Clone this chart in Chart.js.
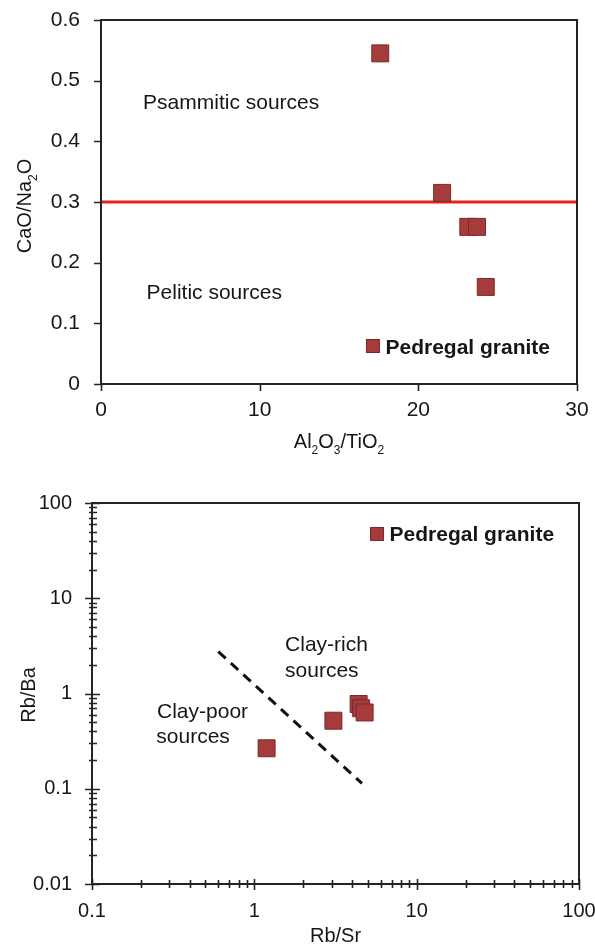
<!DOCTYPE html>
<html>
<head>
<meta charset="utf-8">
<script src="https://cdn.jsdelivr.net/npm/chart.js@4.4.1/dist/chart.umd.min.js"></script>
<style>
html,body{margin:0;padding:0;background:#fff;}
#c1{position:absolute;left:0;top:0;}
#c2{position:absolute;left:0;top:470px;}
</style>
</head>
<body>
<canvas id="c1" width="595" height="460"></canvas>
<canvas id="c2" width="595" height="481"></canvas>
<script>
// ---------- DATA: upper diagram (Al2O3/TiO2 vs CaO/Na2O) ----------
const seriesName = 'Pedregal granite';
const topAl2O3TiO2 = [17.6, 21.5, 23.15, 23.7, 24.25];
const topCaONa2O   = [0.545, 0.315, 0.259, 0.259, 0.160];
const topXTicks = [0, 10, 20, 30];
const topYTicks = [0, 0.1, 0.2, 0.3, 0.4, 0.5, 0.6];
const boundaryX = [0, 30];
const boundaryY = [0.3, 0.3];
const topRegionLabels = ['Psammitic sources', 'Pelitic sources'];

// ---------- DATA: lower diagram (Rb/Sr vs Rb/Ba, log-log) ----------
const botRbSr = [1.19, 3.07, 4.39, 4.55, 4.78];
const botRbBa = [0.266, 0.518, 0.776, 0.70, 0.632];
const dividerX = [0.6, 4.6];
const dividerY = [2.75, 0.114];
const botXTicks = [0.1,0.2,0.3,0.4,0.5,0.6,0.7,0.8,0.9,1,2,3,4,5,6,7,8,9,10,20,30,40,50,60,70,80,90,100];
const botXLabels = [0.1, 1, 10, 100];
const botYTicks = [0.01,0.02,0.03,0.04,0.05,0.06,0.07,0.08,0.09,0.1,0.2,0.3,0.4,0.5,0.6,0.7,0.8,0.9,1,2,3,4,5,6,7,8,9,10,20,30,40,50,60,70,80,90,100];
const botYLabels = [0.01, 0.1, 1, 10, 100];
const botRegionLabels = ['Clay-rich', 'sources', 'Clay-poor', 'sources'];

// axis titles as [text, isSubscript] runs
const topXTitle = [['Al',0],['2',1],['O',0],['3',1],['/TiO',0],['2',1]];
const topYTitle = [['CaO/Na',0],['2',1],['O',0]];
const botXTitle = [['Rb/Sr',0]];
const botYTitle = [['Rb/Ba',0]];

// ---------- styling ----------
const FONT = "'Liberation Sans', Arial, Helvetica, sans-serif";
const INK = '#161616';
const MARK_FILL = '#a63b3b';
const MARK_EDGE = '#7a2a2a';
Chart.defaults.font.family = FONT;
Chart.defaults.color = INK;

function capText(ctx, str, x, yc, size, weight) {
  ctx.font = (weight || 'normal') + ' ' + size + 'px ' + FONT;
  ctx.textAlign = 'left';
  ctx.textBaseline = 'alphabetic';
  ctx.fillText(str, x, yc + 0.358 * size);
}
function drawRich(ctx, parts, cx, baseY, size) {
  const sub = Math.round(size * 0.62);
  let w = 0;
  parts.forEach(p => { ctx.font = (p[1] ? sub : size) + 'px ' + FONT; w += ctx.measureText(p[0]).width; });
  let x = cx - w / 2;
  ctx.textAlign = 'left'; ctx.textBaseline = 'alphabetic';
  parts.forEach(p => {
    ctx.font = (p[1] ? sub : size) + 'px ' + FONT;
    ctx.fillText(p[0], x, baseY + (p[1] ? size * 0.3 : 0));
    x += ctx.measureText(p[0]).width;
  });
}

function fixBox(dim, val) {
  return s => {
    s[dim] = val;
    s.paddingLeft = 0; s.paddingRight = 0; s.paddingTop = 0; s.paddingBottom = 0;
  };
}

function makeDecor(cfg) {
  return {
    id: 'decor',
    afterDatasetsDraw(chart) {
      const {ctx, scales} = chart;
      const sx = scales.x, sy = scales.y;
      ctx.save();
      ctx.fillStyle = INK;
      cfg.notes.forEach(n => capText(ctx, n.text, sx.getPixelForValue(n.x), sy.getPixelForValue(n.y), 21));
      const lx = sx.getPixelForValue(cfg.legend.x), ly = sy.getPixelForValue(cfg.legend.y);
      ctx.fillStyle = MARK_FILL; ctx.strokeStyle = MARK_EDGE; ctx.lineWidth = 1;
      ctx.fillRect(lx - 6.5, ly - 6.5, 13, 13);
      ctx.strokeRect(lx - 6.5, ly - 6.5, 13, 13);
      ctx.fillStyle = INK;
      capText(ctx, chart.data.datasets[0].label, lx + 12.5, ly, 21, 'bold');
      ctx.restore();
    },
    afterDraw(chart) {
      const {ctx, chartArea: a, scales} = chart;
      const sx = scales.x, sy = scales.y;
      ctx.save();
      ctx.strokeStyle = '#242424';
      ctx.lineWidth = 2;
      ctx.strokeRect(a.left, a.top, a.right - a.left, a.bottom - a.top);
      ctx.lineWidth = 1.6;
      ctx.beginPath();
      cfg.xTicks.forEach(v => {
        const p = Math.round(sx.getPixelForValue(v)) + 0.5;
        const major = cfg.xMajor.indexOf(v) >= 0;
        const [u, d] = major ? cfg.xMajorLen : cfg.xMinorLen;
        ctx.moveTo(p, a.bottom - u); ctx.lineTo(p, a.bottom + d);
      });
      cfg.yTicks.forEach(v => {
        const p = Math.round(sy.getPixelForValue(v)) + 0.5;
        const major = cfg.yMajor.indexOf(v) >= 0;
        const [l, r] = major ? cfg.yMajorLen : cfg.yMinorLen;
        ctx.moveTo(a.left - l, p); ctx.lineTo(a.left + r, p);
      });
      ctx.stroke();
      ctx.fillStyle = INK;
      drawRich(ctx, cfg.xTitle, (a.left + a.right) / 2, a.bottom + cfg.xTitleDy, 20);
      ctx.translate(cfg.yTitleX, (a.top + a.bottom) / 2 + cfg.yTitleDy);
      ctx.rotate(-Math.PI / 2);
      drawRich(ctx, cfg.yTitle, 0, 0, 20);
      ctx.restore();
    }
  };
}

const pointStyleOpts = {
  pointStyle: 'rect', pointRadius: 12, pointHoverRadius: 12,
  backgroundColor: MARK_FILL, borderColor: MARK_EDGE, borderWidth: 1
};

// ---------- upper chart ----------
new Chart(document.getElementById('c1'), {
  type: 'scatter',
  data: {
    datasets: [
      Object.assign({ label: seriesName, data: topAl2O3TiO2.map((x, i) => ({x, y: topCaONa2O[i]})) }, pointStyleOpts),
      { label: 'boundary', data: boundaryX.map((x, i) => ({x, y: boundaryY[i]})), showLine: true,
        borderColor: '#e8231d', borderWidth: 3, pointRadius: 0, backgroundColor: '#e8231d' }
    ]
  },
  options: {
    responsive: false, animation: false, devicePixelRatio: 1,
    layout: { padding: { top: 20, right: 18, left: 0, bottom: 0 } },
    plugins: { legend: { display: false }, tooltip: { enabled: false } },
    scales: {
      x: {
        type: 'linear', min: 0, max: 30,
        afterBuildTicks: s => { s.ticks = topXTicks.map(v => ({value: v})); },
        afterFit: fixBox('height', 76),
        ticks: { autoSkip: false, maxRotation: 0, padding: 14, font: {size: 21}, color: INK, callback: v => String(v) },
        grid: { display: false, drawTicks: false }, border: { display: false }
      },
      y: {
        type: 'linear', min: 0, max: 0.6,
        afterBuildTicks: s => { s.ticks = topYTicks.map(v => ({value: v})); },
        afterFit: fixBox('width', 101),
        ticks: { autoSkip: false, padding: 21, font: {size: 21}, color: INK, callback: v => v === 0 ? '0' : v.toFixed(1) },
        grid: { display: false, drawTicks: false }, border: { display: false }
      }
    }
  },
  plugins: [makeDecor({
    notes: [{text: topRegionLabels[0], x: 2.65, y: 0.4665}, {text: topRegionLabels[1], x: 2.87, y: 0.152}],
    legend: {x: 17.14, y: 0.0626},
    xTicks: topXTicks, xMajor: topXTicks, xMajorLen: [0, 7], xMinorLen: [0, 7],
    yTicks: topYTicks, yMajor: topYTicks, yMajorLen: [7, 0], yMinorLen: [7, 0],
    xTitle: topXTitle, xTitleDy: 63.5, yTitle: topYTitle, yTitleX: 31, yTitleDy: 4
  })]
});

// ---------- lower chart ----------
new Chart(document.getElementById('c2'), {
  type: 'scatter',
  data: {
    datasets: [
      Object.assign({ label: seriesName, data: botRbSr.map((x, i) => ({x, y: botRbBa[i]})) }, pointStyleOpts),
      { label: 'divider', data: dividerX.map((x, i) => ({x, y: dividerY[i]})), showLine: true,
        borderColor: '#111', borderWidth: 3, borderDash: [10, 7], pointRadius: 0, backgroundColor: '#111' }
    ]
  },
  options: {
    responsive: false, animation: false, devicePixelRatio: 1,
    layout: { padding: { top: 33, right: 16, left: 0, bottom: 0 } },
    plugins: { legend: { display: false }, tooltip: { enabled: false } },
    scales: {
      x: {
        type: 'logarithmic', min: 0.1, max: 100,
        afterBuildTicks: s => { s.ticks = botXTicks.map(v => ({value: v})); },
        afterFit: fixBox('height', 67),
        ticks: { autoSkip: false, maxRotation: 0, padding: 15, font: {size: 20}, color: INK,
                 callback: v => botXLabels.indexOf(v) >= 0 ? String(v) : '' },
        grid: { display: false, drawTicks: false }, border: { display: false }
      },
      y: {
        type: 'logarithmic', min: 0.01, max: 100,
        afterBuildTicks: s => { s.ticks = botYTicks.map(v => ({value: v})); },
        afterFit: fixBox('width', 92),
        ticks: { autoSkip: false, padding: 20, font: {size: 20}, color: INK,
                 callback: v => botYLabels.indexOf(v) >= 0 ? String(v) : '' },
        grid: { display: false, drawTicks: false }, border: { display: false }
      }
    }
  },
  plugins: [makeDecor({
    notes: [{text: botRegionLabels[0], x: 1.546, y: 3.39}, {text: botRegionLabels[1], x: 1.546, y: 1.766},
            {text: botRegionLabels[2], x: 0.2515, y: 0.671}, {text: botRegionLabels[3], x: 0.249, y: 0.3667}],
    legend: {x: 5.70, y: 47.3},
    xTicks: botXTicks, xMajor: botXLabels, xMajorLen: [5, 6], xMinorLen: [4, 4],
    yTicks: botYTicks, yMajor: botYLabels, yMajorLen: [7, 8], yMinorLen: [3, 5],
    xTitle: botXTitle, xTitleDy: 58, yTitle: botYTitle, yTitleX: 34.5, yTitleDy: 1.5
  })]
});
</script>
</body>
</html>
